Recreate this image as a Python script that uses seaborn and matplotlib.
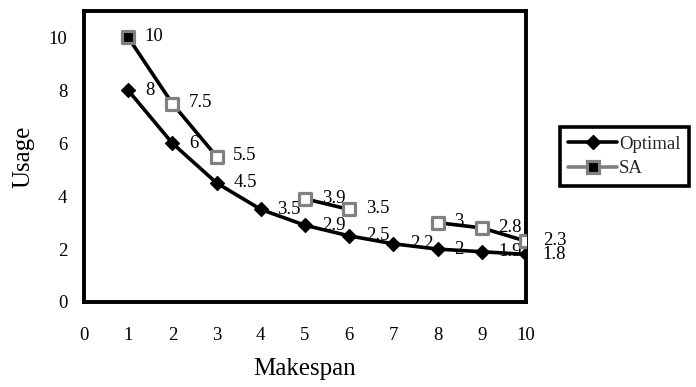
import numpy as np
import pandas as pd
import matplotlib
matplotlib.use("Agg")
import matplotlib.pyplot as plt
from matplotlib.lines import Line2D
import seaborn as sns

# ---- data ----
makespan = [1, 2, 3, 4, 5, 6, 7, 8, 9, 10]
optimal = [8, 6, 4.5, 3.5, 2.9, 2.5, 2.2, 2, 1.9, 1.8]
sa_x = [1, 2, 3, 5, 6, 8, 9, 10]
sa_y = [10, 7.5, 5.5, 3.9, 3.5, 3, 2.8, 2.3]
sa_seg = [0, 0, 0, 1, 1, 2, 2, 2]
x_ticks = list(range(0, 11))
y_ticks = [0, 2, 4, 6, 8, 10]

sns.set_theme(style="white")
plt.rcParams['font.family'] = ['Liberation Serif', 'DejaVu Serif']

fig = plt.figure(figsize=(6.96, 3.87), dpi=100)
ax = fig.add_axes([84/696, 1 - 302/387, (526-84)/696, (302-11)/387])

df_opt = pd.DataFrame({"x": makespan, "y": optimal})
df_sa = pd.DataFrame({"x": sa_x, "y": sa_y, "seg": sa_seg})

LW = 2.6
GRAY = "#808080"

sns.lineplot(data=df_opt, x="x", y="y", color="black", lw=LW, ax=ax,
             estimator=None, zorder=2)
sns.lineplot(data=df_sa, x="x", y="y", units="seg", estimator=None,
             color="black", lw=LW, ax=ax, zorder=2)

sns.scatterplot(data=df_opt, x="x", y="y", marker="D", s=52, color="black",
                edgecolor="black", linewidth=0.8, ax=ax, zorder=4)
sns.scatterplot(data=df_sa.iloc[1:], x="x", y="y", marker="s", s=74,
                color="white", edgecolor=GRAY, linewidth=2.3, ax=ax, zorder=4)
sns.scatterplot(data=df_sa.iloc[:1], x="x", y="y", marker="s", s=74,
                color="black", edgecolor=GRAY, linewidth=2.3, ax=ax, zorder=4)

def fmt(v):
    return f"{v:g}"

FS = 13.5
for xv, yv in zip(makespan, optimal):
    ax.annotate(fmt(yv), (xv, yv), xytext=(12, 0), textcoords="offset points",
                ha="left", va="center", fontsize=FS, color="black", zorder=3)
for xv, yv in zip(sa_x, sa_y):
    ax.annotate(fmt(yv), (xv, yv), xytext=(12, 0.5), textcoords="offset points",
                ha="left", va="center", fontsize=FS, color="black", zorder=3)

ax.set_xlim(0, 10)
ax.set_ylim(0, 11)
ax.set_xticks(x_ticks)
ax.set_yticks(y_ticks)
ax.set_xticklabels([str(t) for t in x_ticks], fontsize=FS)
ax.set_yticklabels([str(t) for t in y_ticks], fontsize=FS)
ax.tick_params(axis="both", direction="out", length=5, width=2.4,
               color="black", labelcolor="black")
ax.tick_params(axis="x", pad=13)
ax.tick_params(axis="y", pad=7)
for sp in ax.spines.values():
    sp.set_visible(True)
    sp.set_linewidth(2.8)
    sp.set_color("black")
ax.grid(False)
ax.set_facecolor("white")

ax.set_xlabel("Makespan", fontsize=18, color="black", labelpad=10)
ax.set_ylabel("Usage", fontsize=18, color="black", labelpad=10)

handles = [
    Line2D([0], [0], color="black", lw=LW, marker="D", markersize=7.5,
           markerfacecolor="black", markeredgecolor="black"),
    Line2D([0], [0], color=GRAY, lw=LW, marker="s", markersize=8.5,
           markerfacecolor="black", markeredgecolor=GRAY, markeredgewidth=2.3),
]
leg = fig.legend(handles, ["Optimal", "SA"], loc="center left",
                 bbox_to_anchor=(560/696, 1 - 156.5/387), fontsize=13.5,
                 frameon=True, fancybox=False, framealpha=1,
                 edgecolor="black", handlelength=2.6, handletextpad=0.1,
                 borderpad=0.45, labelspacing=0.4, borderaxespad=0)
leg.get_frame().set_linewidth(2.6)

fig.savefig("out.png", dpi=100)
